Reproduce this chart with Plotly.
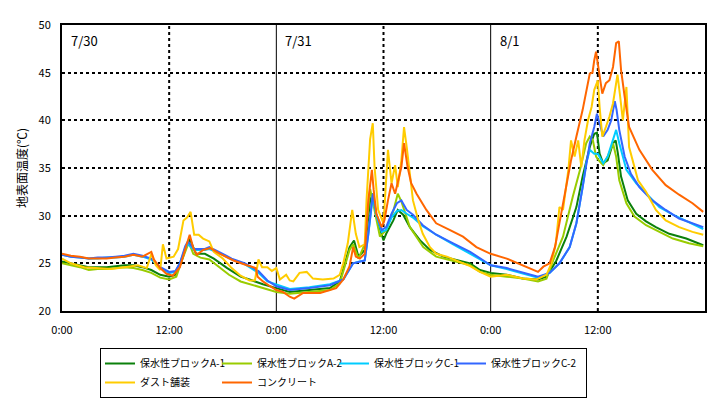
import plotly.graph_objects as go

# ---------------- data (hours since 7/30 0:00, surface temperature in deg C) ----------------
a1_hours = [0, 1, 2, 3, 4, 5, 6, 7, 8, 9, 10, 11, 12, 12.7, 13.3, 14.0, 14.3, 14.7, 15.0, 16.0, 17.0, 18.5, 20, 21, 22.5, 24,
            25.5, 27.7, 30.0, 31.1, 32.2, 32.7, 33.2, 33.9, 34.5, 34.8, 35.2, 36.0, 36.3, 37.1, 37.6, 38.2, 38.95, 40.1, 41.2, 42.7, 44.6, 45.7, 46.8, 48,
            49.8, 51.6, 53.3, 54.25, 55.36, 56.5, 57.6, 58.3, 59.1, 59.6, 59.9, 60.2, 60.6, 61.1, 61.7, 62.0, 62.25, 62.6, 63.35, 64.3, 65.4, 66.5, 68, 69.9, 71.8]
a1_temps = [25.2, 25.0, 24.8, 24.6, 24.6, 24.6, 24.7, 24.8, 24.8, 24.6, 24.3, 23.8, 23.6, 23.8, 25.0, 27.0, 27.6, 26.6, 26.0, 26.0, 25.5, 24.5, 23.6, 23.3, 22.8, 22.4,
            22.0, 22.2, 22.4, 23.1, 26.7, 27.4, 25.7, 26.4, 31.6, 32.3, 29.9, 27.4, 28.1, 29.5, 30.6, 30.1, 28.8, 27.4, 26.4, 25.7, 25.3, 25.0, 24.3, 24.0,
            23.8, 23.4, 23.3, 23.6, 25.3, 27.8, 30.9, 34.1, 37.2, 38.6, 38.7, 36.5, 35.5, 35.8, 37.6, 37.9, 36.5, 34.1, 31.6, 30.2, 29.4, 28.8, 28.1, 27.6, 26.9]

a2_hours = [0, 1, 2, 3, 4, 5, 6, 7, 8, 9, 10, 11, 12, 12.8, 13.3, 14.2, 14.7, 15.5, 16.5, 17.5, 18.7, 20, 21.5, 23, 24,
            25.5, 27.7, 30, 31.1, 32.2, 32.6, 33.2, 33.9, 34.3, 34.5, 34.9, 35.6, 36.3, 37.1, 37.6, 38.0, 38.95, 40.45, 41.9, 44.2, 45.7, 46.8, 48,
            49.8, 51.6, 53.3, 54.25, 55.0, 56.1, 57.2, 58.0, 58.7, 59.1, 59.45, 59.8, 60.2, 60.6, 61.1, 61.7, 62.05, 62.4, 63.2, 64.1, 65.4, 66.9, 68.4, 70.2, 71.8]
a2_temps = [25.0, 24.8, 24.6, 24.3, 24.4, 24.4, 24.5, 24.6, 24.5, 24.3, 24.0, 23.5, 23.3, 23.6, 25.0, 27.2, 26.0, 25.6, 25.4, 24.7, 23.8, 23.1, 22.7, 22.3, 22.0,
            21.8, 22.0, 22.2, 22.9, 26.4, 27.0, 25.5, 27.0, 31.0, 32.8, 31.0, 27.8, 28.5, 30.5, 32.3, 31.5, 28.8, 26.7, 25.7, 25.2, 24.8, 24.1, 23.8,
            23.6, 23.4, 23.1, 23.4, 25.3, 27.8, 32.0, 34.8, 37.6, 38.3, 37.9, 36.2, 35.7, 35.3, 36.2, 37.6, 36.2, 33.7, 31.3, 29.9, 29.0, 28.3, 27.6, 27.1, 26.8]

c1_hours = [0, 1, 2, 3, 4, 5, 6, 7, 8, 9, 10, 11, 12, 12.7, 13.2, 13.8, 14.1, 14.8, 16, 16.5, 18, 19, 20.5, 22, 23, 24,
            25.5, 27.7, 30, 31.5, 32.6, 33.3, 33.9, 34.3, 34.8, 35.2, 35.8, 36.3, 36.9, 37.5, 38.0, 38.6, 39.3, 40.4, 41.9, 43.8, 45.7, 47.2, 48,
            49.8, 51.6, 53.3, 54.6, 55.7, 56.85, 57.6, 58.3, 58.7, 59.1, 59.6, 60.0, 60.6, 61.1, 61.7, 62.05, 62.4, 63.2, 64.3, 65.4, 66.9, 68.4, 69.9, 71.8]
c1_temps = [25.9, 25.7, 25.6, 25.5, 25.5, 25.6, 25.6, 25.7, 25.9, 25.7, 25.4, 24.5, 24.0, 24.1, 25.0, 26.6, 27.0, 26.4, 26.4, 26.5, 25.9, 25.4, 24.9, 24.0, 23.1, 22.8,
            22.3, 22.5, 22.8, 23.3, 25.0, 25.2, 25.3, 28.0, 32.0, 30.0, 28.3, 28.5, 29.8, 30.5, 30.6, 30.2, 29.8, 28.9, 28.0, 27.0, 26.0, 25.2, 24.8,
            24.4, 23.9, 23.5, 24.0, 25.0, 26.7, 29.2, 33.0, 35.5, 36.9, 36.5, 36.5, 35.5, 36.2, 37.9, 39.0, 37.6, 34.8, 33.4, 32.3, 30.9, 30.1, 29.4, 28.6]

c2_hours = [0, 1, 2, 3, 4, 5, 6, 7, 8, 9, 10, 11, 12, 12.7, 13.2, 13.8, 14.1, 14.8, 16, 16.5, 18, 19, 20.5, 22, 23, 24,
            25.5, 27.7, 30, 31.5, 32.6, 33.3, 33.9, 34.3, 34.8, 35.2, 35.8, 36.3, 36.9, 37.5, 38.0, 38.6, 39.3, 40.4, 41.9, 43.8, 45.7, 47.2, 48,
            49.8, 51.6, 53.3, 54.6, 55.7, 56.85, 57.6, 58.3, 59.1, 59.6, 59.9, 60.2, 60.6, 61.1, 61.5, 61.9, 62.1, 62.4, 63.0, 63.7, 64.65, 66.1, 67.6, 69.1, 70.6, 71.8]
c2_temps = [25.9, 25.7, 25.6, 25.5, 25.6, 25.6, 25.7, 25.8, 26.0, 25.8, 25.5, 24.6, 24.1, 24.2, 25.0, 26.8, 27.3, 26.5, 26.5, 26.7, 26.0, 25.5, 25.0, 24.2, 23.2, 22.6,
            22.2, 22.4, 22.7, 23.3, 25.0, 25.2, 25.3, 28.1, 32.3, 30.2, 28.5, 28.8, 30.2, 31.3, 31.6, 30.6, 30.1, 29.0, 28.0, 27.1, 26.2, 25.3, 24.8,
            24.5, 24.0, 23.6, 24.0, 25.0, 26.7, 29.2, 33.0, 37.6, 39.3, 40.7, 39.7, 38.3, 39.0, 40.0, 42.0, 41.1, 39.0, 36.2, 34.4, 33.0, 31.6, 30.6, 29.7, 29.2, 28.8]

dust_hours = [0, 1, 2.5, 4, 5.5, 7, 8.5, 9.5, 10.0, 10.5, 11, 11.3, 11.7, 12.5, 13.0, 13.6, 14.0, 14.4, 14.8, 15.3, 15.8, 16.5, 17, 18, 19, 20, 21, 21.6, 22.0, 22.4, 23, 23.5, 24,
              24.4, 25.1, 25.5, 25.9, 26.6, 27.4, 28.1, 29.2, 30.4, 31.1, 31.5, 32.0, 32.5, 32.9, 33.3, 33.9, 34.1, 34.5, 34.8, 35.0, 35.4, 36.0, 36.5, 36.9, 37.3, 37.6, 38.0, 38.3, 38.6, 38.95, 39.3, 39.9, 40.4, 41.2, 41.9, 43.1, 44.2, 45.7, 46.8, 48,
              49.8, 51.6, 53.1, 54.25, 54.8, 55.3, 55.7, 56.1, 56.7, 57.0, 57.4, 57.8, 58.15, 58.5, 58.9, 59.3, 59.6, 60.0, 60.2, 60.5, 60.9, 61.3, 61.7, 62.2, 62.5, 62.8, 63.2, 63.5, 63.9, 64.5, 65.4, 66.5, 67.6, 69.1, 70.6, 71.8]
dust_temps = [25.5, 25.0, 24.6, 24.5, 24.4, 24.6, 24.8, 24.5, 26.0, 24.8, 24.3, 27.0, 25.5, 25.7, 26.5, 29.5, 29.8, 30.4, 28.0, 28.0, 27.6, 27.3, 26.2, 25.5, 24.5, 23.7, 23.2, 23.2, 25.4, 24.6, 24.6, 24.2, 24.5,
              23.3, 23.8, 23.2, 23.1, 24.0, 24.1, 23.4, 23.3, 23.4, 23.8, 25.0, 27.1, 30.6, 28.1, 26.7, 27.0, 31.6, 38.0, 39.7, 35.1, 30.6, 29.2, 36.9, 33.4, 35.3, 33.0, 35.8, 39.3, 37.2, 34.1, 31.6, 29.5, 28.1, 26.7, 26.0, 25.7, 25.3, 24.7, 24.1, 23.6,
              23.8, 23.4, 23.3, 23.8, 25.0, 27.1, 30.9, 30.6, 34.8, 37.9, 36.2, 37.9, 35.1, 37.9, 40.0, 41.4, 43.2, 44.2, 41.4, 38.3, 39.3, 40.4, 41.8, 44.8, 42.5, 40.0, 43.5, 37.2, 35.8, 33.7, 32.5, 30.6, 29.5, 28.8, 28.3, 28.0]

conc_hours = [0, 1, 2, 3, 4, 5, 6, 7, 8, 9, 10.0, 10.3, 11, 11.7, 12.4, 13.2, 14.0, 14.3, 14.7, 15.1, 15.8, 16.6, 17.7, 19.2, 20.7, 21.7, 21.9, 22.5, 23.3, 24,
              24.75, 25.5, 26.0, 27, 28.9, 30.7, 31.5, 32.2, 32.6, 32.9, 33.35, 33.9, 34.3, 34.7, 34.9, 35.2, 35.8, 36.1, 36.5, 36.9, 37.3, 37.6, 38.0, 38.3, 38.7, 39.1, 39.7, 40.8, 41.9, 43.4, 44.9, 46.4, 48,
              49.8, 51.6, 53.3, 53.9, 54.6, 55.2, 55.7, 56.5, 57.0, 57.6, 58.3, 59.1, 59.4, 59.6, 59.8, 60.1, 60.5, 60.9, 61.3, 61.7, 62.05, 62.35, 62.6, 63.0, 63.5, 64.65, 66.1, 67.6, 69.1, 70.6, 71.8]
conc_temps = [26.0, 25.8, 25.7, 25.5, 25.5, 25.5, 25.6, 25.7, 25.9, 25.7, 26.2, 25.4, 24.5, 23.9, 23.7, 24.6, 27.1, 28.0, 26.6, 25.9, 26.4, 26.6, 26.0, 25.3, 24.8, 24.5, 23.6, 23.1, 22.6, 22.2,
              22.0, 21.5, 21.3, 21.9, 21.9, 22.4, 23.3, 24.7, 26.7, 25.7, 25.5, 26.0, 31.6, 34.8, 32.7, 30.2, 28.8, 29.5, 31.6, 33.4, 32.3, 33.4, 35.1, 37.6, 35.1, 33.4, 32.3, 30.6, 29.2, 28.5, 27.8, 26.7, 26.0,
              25.5, 24.8, 24.1, 24.65, 25.0, 26.7, 29.2, 33.0, 35.8, 38.3, 41.1, 44.9, 45.0, 46.3, 47.2, 45.3, 42.8, 43.9, 44.2, 45.6, 48.1, 48.3, 45.3, 42.5, 39.3, 36.9, 34.8, 33.2, 32.2, 31.3, 30.4]

series_names = ["保水性ブロックA-1", "保水性ブロックA-2", "保水性ブロックC-1", "保水性ブロックC-2", "ダスト舗装", "コンクリート"]
series_colors = ["#0b800b", "#99cc00", "#00ccff", "#3366ff", "#ffcc00", "#ff6600"]
series_hours = [a1_hours, a2_hours, c1_hours, c2_hours, dust_hours, conc_hours]
series_temps = [a1_temps, a2_temps, c1_temps, c2_temps, dust_temps, conc_temps]
# legend column of each series (2 rows x 4 columns, as in the original legend)
legend_columns = ["col1", "col2", "col3", "col4", "col1", "col2"]
legend_entry_px = [72, 72, 72, 90, 72, 72]

tick_hours = [0, 12, 24, 36, 48, 60]
tick_labels = ["0:00", "12:00", "0:00", "12:00", "0:00", "12:00"]
day_labels = ["7/30", "7/31", "8/1"]
day_starts = [0, 24, 48]
noon_hours = [12, 36, 60]

FONT = "Noto Sans CJK JP, Noto Sans, sans-serif"

fig = go.Figure()
for name, color, hrs, tmp, col, lw in zip(series_names, series_colors, series_hours, series_temps,
                                          legend_columns, legend_entry_px):
    fig.add_trace(go.Scatter(x=hrs, y=tmp, mode="lines", name=name, legendgroup=col,
                             legendwidth=lw, line=dict(color=color, width=2)))

shapes = []
for h in noon_hours:
    shapes.append(dict(type="line", xref="x", yref="paper", x0=h, x1=h, y0=0, y1=1,
                       line=dict(color="black", width=2, dash="dot"), layer="below"))
for h in day_starts[1:]:
    shapes.append(dict(type="line", xref="x", yref="paper", x0=h, x1=h, y0=0, y1=1,
                       line=dict(color="black", width=1), layer="below"))

annotations = []
for lab, h in zip(day_labels, day_starts):
    annotations.append(dict(x=h + 0.8, y=48.4, xref="x", yref="y", text=lab, showarrow=False,
                            xanchor="left", yanchor="middle", font=dict(size=13, color="black", family=FONT)))

fig.update_layout(
    width=721, height=398,
    margin=dict(l=62, r=16, t=25, b=87, autoexpand=False),
    paper_bgcolor="white", plot_bgcolor="white",
    font=dict(family=FONT, size=11, color="black"),
    shapes=shapes, annotations=annotations,
    showlegend=True,
    legend=dict(orientation="h", xref="container", yref="container",
                x=100 / 721, y=1 - 348 / 398, xanchor="left", yanchor="top",
                bordercolor="black", borderwidth=1, font=dict(size=10, family=FONT),
                entrywidthmode="pixels", groupclick="toggleitem",
                tracegroupgap=0, itemwidth=30, bgcolor="white"),
    xaxis=dict(range=[0, 72], tickvals=tick_hours, ticktext=tick_labels, showgrid=False,
               zeroline=False, showline=True, mirror=True, linecolor="black", linewidth=2,
               ticks="", ticklabelstandoff=8, tickfont=dict(size=11), automargin=False),
    yaxis=dict(range=[20, 50], dtick=5, tick0=20, showgrid=True, gridcolor="black", gridwidth=2,
               griddash="dot", zeroline=False, showline=True, mirror=True, linecolor="black",
               linewidth=2, ticks="", ticklabelstandoff=7, tickfont=dict(size=11), automargin=False,
               title=dict(text="地表面温度(℃)", font=dict(size=12), standoff=8)),
)

fig.write_html("out.html", config={"displayModeBar": False},
               post_script="document.body.style.margin='0';")
